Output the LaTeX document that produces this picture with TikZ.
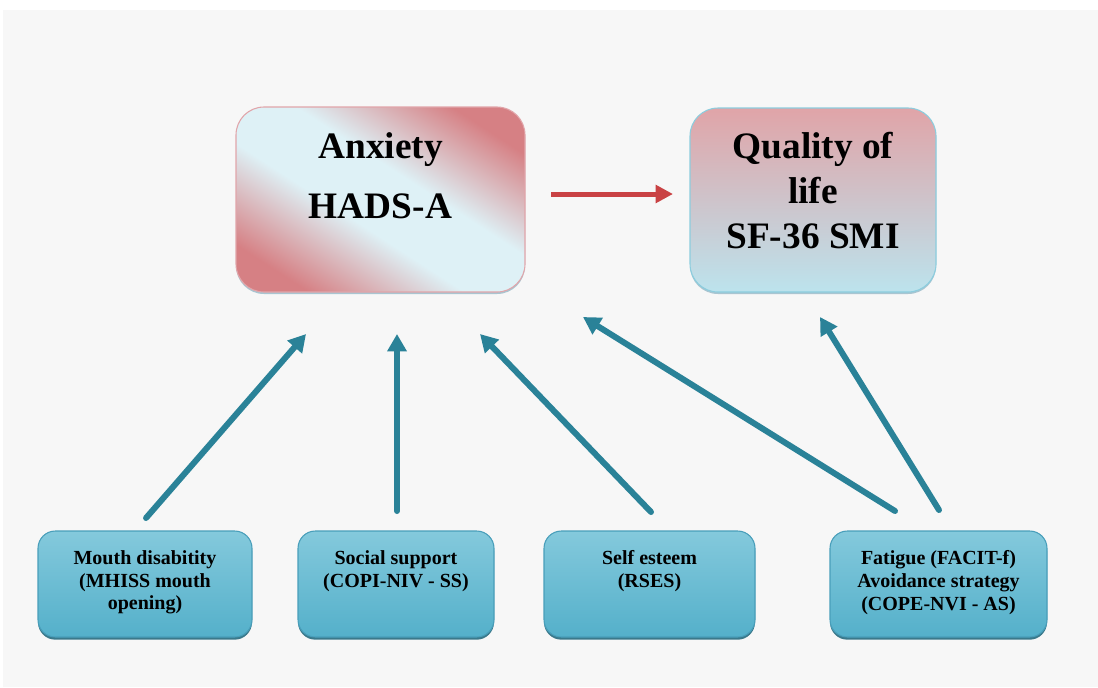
\documentclass[tikz,border=0pt]{standalone}
\usepackage{fontspec}
\setmainfont{Liberation Serif}
\usetikzlibrary{arrows.meta,shadows}
\definecolor{bg}{RGB}{247,247,247}
\definecolor{tealA}{RGB}{42,130,152}
\definecolor{redA}{RGB}{201,66,68}
\definecolor{pinkA}{RGB}{214,128,132}
\definecolor{lightB}{RGB}{222,241,246}
\definecolor{qpink}{RGB}{224,164,168}
\definecolor{qblue}{RGB}{188,227,237}
\definecolor{qborder}{RGB}{140,205,222}
\definecolor{aborder}{RGB}{225,165,170}
\definecolor{cyanTop}{RGB}{132,201,220}
\definecolor{cyanMid}{RGB}{84,176,202}
\definecolor{cyanBorder}{RGB}{72,158,186}
\definecolor{cyanShadow}{RGB}{38,108,128}
\definecolor{topShadow}{RGB}{150,185,200}
\pgfdeclarehorizontalshading{anxshade}{100bp}{color(0bp)=(pinkA); color(24bp)=(pinkA); color(43bp)=(lightB); color(57bp)=(lightB); color(76bp)=(pinkA); color(100bp)=(pinkA)}
\tikzset{
  anxbox/.style={rounded corners=21pt, inner sep=0pt, draw=aborder, line width=0.8pt,
    shading=anxshade, shading angle=57,
    drop shadow={shadow xshift=0pt, shadow yshift=-1.5pt, fill=topShadow, opacity=0.8}},
  qolbox/.style={rounded corners=21pt, inner sep=0pt, draw=qborder, line width=0.8pt,
    top color=qpink, bottom color=qblue,
    drop shadow={shadow xshift=0pt, shadow yshift=-1.5pt, fill=topShadow, opacity=0.8}},
  botbox/.style={rounded corners=13pt, inner sep=0pt, draw=cyanBorder, line width=0.8pt,
    top color=cyanTop, bottom color=cyanMid, minimum height=79.5pt,
    drop shadow={shadow xshift=0pt, shadow yshift=-2pt, fill=cyanShadow, opacity=0.9}},
  toptext/.style={inner sep=0pt, align=center, font=\bfseries\fontsize{28}{45}\selectfont, anchor=north},
  qoltext/.style={inner sep=0pt, align=center, font=\bfseries\fontsize{28}{34}\selectfont, anchor=north},
  bottext/.style={inner sep=0pt, align=center, font=\bfseries\fontsize{15}{17}\selectfont, anchor=north},
  tealarrow/.style={draw=tealA, line width=4.5pt, line cap=round,
    -{Triangle[length=13pt, width=14pt]}},
  redarrow/.style={draw=redA, line width=3.75pt,
    -{Triangle[length=13pt, width=13pt]}}
}
\begin{document}
\begin{tikzpicture}[x=0.75pt, y=-0.75pt]
\useasboundingbox (0,0) rectangle (1098,687);
\fill[bg] (3,10) rectangle (1098,687);

% top boxes
\node[anxbox, minimum width=216.75pt, minimum height=138.75pt] (anx) at (380.5,199.5) {};
\node[toptext] (anxT) at ([yshift=-19.5pt]anx.north) {Anxiety\\HADS-A};
\node[qolbox, minimum width=184.5pt, minimum height=138pt] (qol) at (813,200) {};
\node[qoltext] (qolT) at ([yshift=-18pt]qol.north) {Quality of\\life\\SF-36 SMI};

% bottom boxes
\node[botbox, minimum width=160.5pt] (mouth) at (145,584) {};
\node[bottext] (mouthT) at ([yshift=-15pt]mouth.north) {Mouth disabitity\\(MHISS mouth\\opening)};
\node[botbox, minimum width=147pt] (social) at (396,584) {};
\node[bottext] (socialT) at ([yshift=-15pt]social.north) {Social support\\(COPI-NIV - SS)};
\node[botbox, minimum width=158.25pt] (self) at (649.5,584) {};
\node[bottext] (selfT) at ([yshift=-15pt]self.north) {Self esteem\\(RSES)};
\node[botbox, minimum width=162.75pt] (fat) at (938.5,584) {};
\node[bottext] (fatT) at ([yshift=-15pt]fat.north) {Fatigue (FACIT-f)\\Avoidance strategy\\(COPE-NVI - AS)};

% connector ends
\coordinate (a1s) at (146,518);
\coordinate (a1e) at (306,334);
\coordinate (a2s) at (397,511);
\coordinate (a2e) at (397,334);
\coordinate (a3s) at (651,512);
\coordinate (a3e) at (480,334);
\coordinate (a4s) at (895,511);
\coordinate (a4e) at (583,317);
\coordinate (a5s) at (939,510);
\coordinate (a5e) at (820,317);
\coordinate (rs) at (551,194);
\coordinate (re) at (673,194);

\draw[tealarrow] (a1s) -- (a1e);
\draw[tealarrow] (a2s) -- (a2e);
\draw[tealarrow] (a3s) -- (a3e);
\draw[tealarrow] (a4s) -- (a4e);
\draw[tealarrow] (a5s) -- (a5e);
\draw[redarrow] (rs) -- (re);
\end{tikzpicture}
\end{document}
